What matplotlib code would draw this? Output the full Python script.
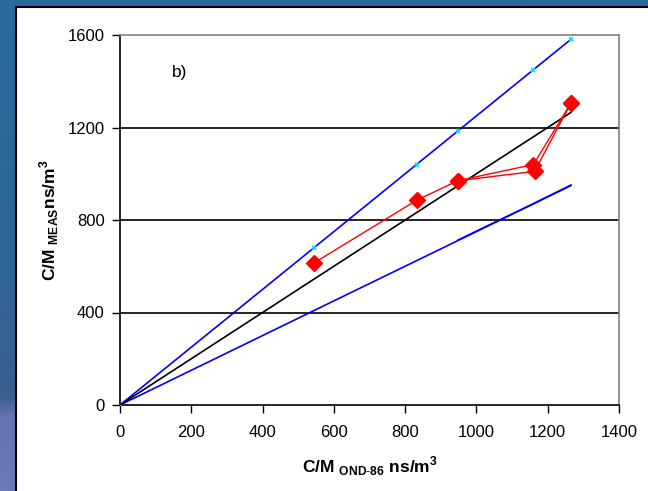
import matplotlib
matplotlib.use("Agg")
import matplotlib.pyplot as plt
import numpy as np
from matplotlib.patches import Rectangle
from matplotlib.colors import LinearSegmentedColormap

plt.rcParams['font.family'] = ['Liberation Sans', 'DejaVu Sans']
plt.rcParams['mathtext.fontset'] = 'custom'
plt.rcParams['mathtext.rm'] = 'Liberation Sans'
plt.rcParams['mathtext.bf'] = 'Liberation Sans:bold'

# ---- data ----
x_pts = [0, 545, 832, 948, 1160, 1265]
upper_y = [0, 681, 1040, 1185, 1450, 1581]      # +25 %
ref_y = [0, 545, 832, 948, 1160, 1265]           # 1:1
lower_y = [0, 409, 624, 711, 870, 949]           # -25 %
lower2_x = [948, 1163, 1265]
lower2_y = [713, 873, 951]
red1_x = [545, 832, 948, 1160, 1265]
red1_y = [615, 885, 970, 1040, 1305]
red2_x = [948, 1163, 1265]
red2_y = [970, 1010, 1305]
xticks = [0, 200, 400, 600, 800, 1000, 1200, 1400]
yticks = [0, 400, 800, 1200, 1600]

W, H = 648, 491
fig = plt.figure(figsize=(W/100, H/100), dpi=100)

# background gradient
bg = fig.add_axes([0, 0, 1, 1])
bg.set_axis_off()
cmap = LinearSegmentedColormap.from_list(
    'bgc', [(0, '#2a6a9c'), (0.55, '#2f6494'), (0.81, '#3a5e8c'), (0.85, '#6474b0'), (1, '#6b7bb8')])
grad = np.linspace(0, 1, 256).reshape(-1, 1)
bg.imshow(grad, aspect='auto', cmap=cmap, extent=[0, 1, 0, 1], origin='upper')
bg.set_xlim(0, 1); bg.set_ylim(0, 1)
bg.add_patch(Rectangle((16/W, -0.01), 1.0, 1 - 7/H + 0.01, facecolor='white',
                       edgecolor='none', transform=bg.transAxes))
bg.plot([16/W, 16/W], [0, 1 - 7/H], color='black', lw=1.5)
bg.plot([16/W, 1], [1 - 7/H, 1 - 7/H], color='black', lw=1.5)

ax = fig.add_axes([120/W, 1 - 405/H, 499/W, 370/H])
ax.set_facecolor('none')
ax.set_xlim(0, 1400)
ax.set_ylim(0, 1600)
ax.set_xticks(xticks)
ax.set_yticks(yticks)
for yv in yticks[1:-1]:
    ax.axhline(yv, color='black', lw=1.2, zorder=1)

ax.plot(x_pts, upper_y, color='#0000ff', lw=1.2, marker='x', ms=3,
        mec='#00e5ff', mew=1.2, zorder=3)
ax.plot(x_pts, lower_y, color='#0000ff', lw=1.2, zorder=3)
ax.plot(lower2_x, lower2_y, color='#0000ff', lw=1.2, zorder=3)
ax.plot(x_pts, ref_y, color='black', lw=1.2, zorder=3)
ax.plot(red1_x, red1_y, color='#ff0000', lw=1.0, marker='D', ms=8, zorder=4)
ax.plot(red2_x, red2_y, color='#ff0000', lw=1.0, marker='D', ms=8, zorder=4)

ax.text(146, 1436, 'b)', fontsize=12.5, ha='left', va='center')

for s in ['left', 'bottom']:
    ax.spines[s].set_color('black')
    ax.spines[s].set_linewidth(1.2)
for s in ['right', 'top']:
    ax.spines[s].set_color('#808080')
    ax.spines[s].set_linewidth(1.2)
ax.tick_params(direction='out', length=6, width=1.0, labelsize=12)
ax.tick_params(axis='x', pad=8.5)
ax.tick_params(axis='y', pad=5)

ax.set_xlabel(r'C/M $_{\mathbf{OND\text{-}86}}$ ns/m$^{\mathbf{3}}$', fontsize=12.5,
              fontweight='bold', labelpad=10)
ax.set_ylabel(r'C/M $_{\mathbf{MEAS}}$ns/m$^{\mathbf{3}}$', fontsize=12.5,
              fontweight='bold', labelpad=5)

fig.savefig('out.png', dpi=100)
